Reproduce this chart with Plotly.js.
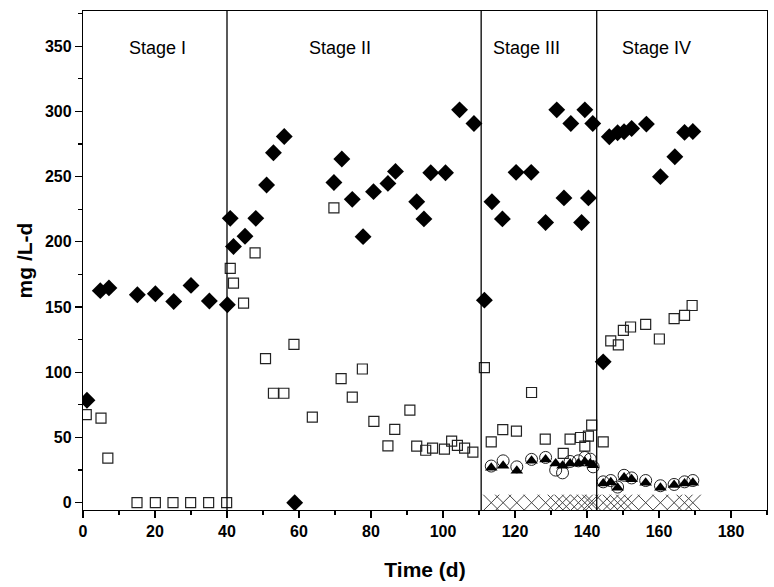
<!DOCTYPE html>
<html><head><meta charset="utf-8">
<script src="https://cdn.plot.ly/plotly-3.0.1.min.js"></script>
<style>body{margin:0;background:#fff}</style>
</head><body><div id="chart" style="width:774px;height:587px"></div>
<script>
// Series 1: filled diamonds
const diamondX = [1.1,4.8,7.2,15.1,20.1,25.2,30.0,35.1,40.1,40.9,41.8,45.0,48.0,51.0,52.9,55.9,58.8,69.7,71.9,74.8,77.8,80.7,84.7,86.8,92.7,94.7,96.6,100.7,104.6,108.6,111.5,113.6,116.5,120.3,124.5,128.5,131.6,133.6,135.5,138.5,139.4,140.4,141.6,144.5,146.2,148.5,150.3,152.4,156.5,160.4,164.4,167.1,169.4];
const diamondY = [78.6,162.6,164.7,159.4,160.2,154.3,166.6,154.6,151.8,218,196.4,204.3,218,243.6,268.3,280.8,0,245.5,263.5,232.6,204,238.5,244.8,254,230.8,217.6,253,253,301.2,290.7,155.3,230.8,217.6,253.3,253.3,214.8,301.2,233.7,290.7,214.8,301.2,233.7,290.7,108,280.6,283.6,284.4,286.9,290.3,250,265.3,283.9,284.6];
// Series 2: open squares
const squareX = [0.9,5.0,6.9,15,20.1,25,29.9,34.9,39.9,40.9,41.8,44.6,47.8,50.7,52.9,55.8,58.6,63.7,69.7,71.7,74.8,77.6,80.8,84.7,86.6,90.8,92.7,95.2,97.1,100.4,102.4,104,106,108.3,111.5,113.4,116.6,120.4,124.6,128.4,133.4,135.3,138.2,139.4,140.4,141.3,144.5,146.6,148.7,150.1,152.1,156.3,160.1,164.2,167.1,169.2];
const squareY = [67.6,64.8,34.2,0,0,0,0,0,0,179.6,168.3,153,191.6,110.5,83.9,83.9,121.4,65.6,226,95.2,80.9,102.5,62.3,43.6,56.2,71,43.4,40.2,41.8,41,47.2,44,41.8,38.8,103.6,46.7,56.1,54.9,84.5,48.7,37.8,48.7,50,43.4,51,59.4,46.7,124,121,132.2,134.7,136.7,125.5,141.1,143.6,151.2];
// Series 3: open circles
const circleX = [113.4,116.7,120.5,124.6,128.5,131.3,133.2,135.3,137.6,139.4,140.9,141.7,144.5,146.6,148.5,150.3,152.4,156.3,160.4,164.2,167.1,169.4];
const circleY = [28.1,32.1,27.5,33.2,34.7,25,22.9,31.6,32.1,34.7,33.4,27.5,16,17,12,21,19,17,13,14,16,17];
// Series 4: filled triangles
const triX = [113.4,116.7,120.5,124.6,128.5,131.3,133.2,135.3,137.6,139.4,140.9,141.7,144.5,146.6,148.5,150.3,152.4,156.3,160.4,164.2,167.1,169.4];
const triY = [26.8,28.3,24.5,32.1,33.2,30.1,28.3,30.1,30.1,31.4,30.1,28.8,14.8,15.6,11.5,19.4,17.9,15.3,11.5,13.5,14.8,15.3];
// Series 5: crosses
const crossX = [113.4,116.7,120.5,124.6,128.5,131.3,133.2,135.3,137.6,139.4,140.9,141.7,144.5,146.6,148.5,150.3,152.4,156.3,160.4,164.2,167.1,169.4];
const crossY = [0,0,0,0,0,0,0,0,0,0,0,0,0,0,0,0,0,0,0,0,0,0];
// Stage boundaries and labels
const stageBounds = [40, 110.6, 142.7];
const stageLabels = ["Stage I","Stage II","Stage III","Stage IV"];
const stageLabelX = [20.7, 71.4, 123.2, 159.2];
const stageLabelY = 348.7;

const traces = [
  {x: crossX, y: crossY, mode:'markers', type:'scatter', marker:{symbol:'x-thin-open', size:16, color:'#444', line:{width:1, color:'#444'}}},
  {x: squareX, y: squareY, mode:'markers', type:'scatter', marker:{symbol:'square-open', size:10, color:'#222', line:{width:1.2}}},
  {x: circleX, y: circleY, mode:'markers', type:'scatter', marker:{symbol:'circle-open', size:12, color:'#222', line:{width:1}}},
  {x: triX, y: triY, mode:'markers', type:'scatter', marker:{symbol:'triangle-up', size:11, color:'#000'}},
  {x: diamondX, y: diamondY, mode:'markers', type:'scatter', marker:{symbol:'diamond', size:13, color:'#000'}}
];

const font = {family:'"Liberation Sans", Arial, sans-serif', color:'#000'};
const layout = {
  width:774, height:587,
  margin:{l:83, r:7, t:11, b:77},
  paper_bgcolor:'#fff', plot_bgcolor:'#fff',
  showlegend:false,
  font: font,
  xaxis:{
    range:[0,190], tickmode:'array', tickvals:[0,20,40,60,80,100,120,140,160,180],
    ticks:'outside', ticklen:7, tickwidth:1.2, tickcolor:'#000',
    minor:{tickvals:[10,30,50,70,90,110,130,150,170,190], ticks:'outside', ticklen:4, tickwidth:1.2, tickcolor:'#000'},
    showline:true, linecolor:'#000', linewidth:1.2, mirror:true, showgrid:false, zeroline:false,
    tickfont:{family:font.family, size:16, weight:'bold', color:'#000'},
    title:{text:'Time (d)', font:{family:font.family, size:21, weight:'bold', color:'#000'}, standoff:22}
  },
  yaxis:{
    range:[-5.6,377], tickmode:'array', tickvals:[0,50,100,150,200,250,300,350],
    ticks:'outside', ticklen:7, tickwidth:1.2, tickcolor:'#000',
    minor:{tickvals:[25,75,125,175,225,275,325,375], ticks:'outside', ticklen:4, tickwidth:1.2, tickcolor:'#000'},
    showline:true, linecolor:'#000', linewidth:1.2, mirror:true, showgrid:false, zeroline:false,
    tickfont:{family:font.family, size:16, weight:'bold', color:'#000'},
    title:{text:'mg /L-d', font:{family:font.family, size:21, weight:'bold', color:'#000'}, standoff:6}
  },
  shapes: stageBounds.map(b => ({type:'line', xref:'x', yref:'paper', x0:b, x1:b, y0:0, y1:1, line:{color:'#000', width:1.3}})),
  annotations: stageLabels.map((t,i) => ({text:t, x:stageLabelX[i], y:stageLabelY, xref:'x', yref:'y', showarrow:false, font:{family:font.family, size:18, color:'#000'}}))
};
Plotly.newPlot('chart', traces, layout, {displayModeBar:false, staticPlot:true});
</script></body></html>
